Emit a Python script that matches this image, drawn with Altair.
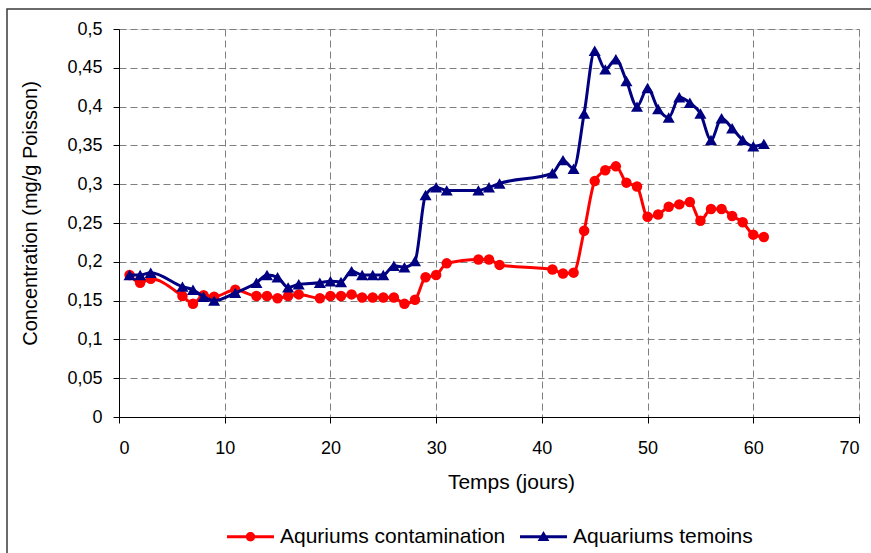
import altair as alt
import pandas as pd

# Sampling days (same for both series)
jours = [1, 2, 3, 6, 7, 8, 9, 11, 13, 14, 15, 16, 17, 19, 20, 21, 22, 23, 24, 25,
         26, 27, 28, 29, 30, 31, 34, 35, 36, 41, 42, 43, 44, 45, 46, 47, 48, 49, 50,
         51, 52, 53, 54, 55, 56, 57, 58, 59, 60, 61]

# Concentration (mg/g fish) in the contaminated aquaria
contamination = [0.183, 0.173, 0.178, 0.156, 0.146, 0.157, 0.155, 0.164, 0.156, 0.156,
                 0.153, 0.156, 0.158, 0.153, 0.156, 0.156, 0.158, 0.154, 0.154, 0.154,
                 0.154, 0.146, 0.151, 0.180, 0.183, 0.198, 0.203, 0.203, 0.196, 0.190,
                 0.185, 0.186, 0.240, 0.304, 0.318, 0.323, 0.302, 0.297, 0.258, 0.261,
                 0.271, 0.274, 0.277, 0.253, 0.268, 0.268, 0.259, 0.251, 0.235, 0.232]

# Concentration (mg/g fish) in the control aquaria
temoins = [0.183, 0.183, 0.186, 0.168, 0.164, 0.155, 0.150, 0.160, 0.173, 0.183,
           0.180, 0.167, 0.171, 0.173, 0.175, 0.174, 0.188, 0.183, 0.183, 0.183,
           0.195, 0.193, 0.201, 0.286, 0.296, 0.292, 0.292, 0.296, 0.301, 0.314,
           0.331, 0.320, 0.391, 0.472, 0.448, 0.461, 0.433, 0.400, 0.424, 0.397,
           0.386, 0.412, 0.405, 0.391, 0.357, 0.385, 0.372, 0.357, 0.349, 0.352]

series_names = ["Aquriums contamination", "Aquariums temoins"]
series_colors = ["#FF0000", "#000080"]

x_ticks = [0, 10, 20, 30, 40, 50, 60, 70]
y_ticks = [0, 0.05, 0.1, 0.15, 0.2, 0.25, 0.3, 0.35, 0.4, 0.45, 0.5]

n = len(jours)
df = pd.DataFrame({
    "jour": jours + jours,
    "conc": contamination + temoins,
    "serie": [series_names[0]] * n + [series_names[1]] * n,
})

FONT = "Liberation Sans"

x_enc = alt.X(
    "jour:Q",
    scale=alt.Scale(domain=[0, 70], nice=False, zero=False),
    axis=alt.Axis(
        values=x_ticks, title="Temps (jours)", labelFontSize=18, labelPadding=16,
        titleFontSize=21, titleFontWeight="normal", titleX=392, titleY=54,
        titleBaseline="top", tickSize=6,
    ),
)
y_enc = alt.Y(
    "conc:Q",
    scale=alt.Scale(domain=[0, 0.5], nice=False),
    axis=alt.Axis(
        values=y_ticks, title="Concentration (mg/g Poisson)",
        labelExpr="replace(format(datum.value, '.2~f'), '.', ',')",
        labelFontSize=18, labelPadding=11, tickSize=6,
        titleFontSize=20, titleFontWeight="normal", titleX=-79, titleY=184,
    ),
)

base = alt.Chart(df)


def serie(name):
    return alt.datum.serie == name


line_cont = base.transform_filter(serie(series_names[0])).mark_line(
    color=series_colors[0], strokeWidth=3, interpolate="monotone"
).encode(x=x_enc, y=y_enc)

pts_cont = base.transform_filter(serie(series_names[0])).mark_point(
    shape="circle", filled=True, size=110, color=series_colors[0], opacity=1
).encode(x=x_enc, y=y_enc)

line_tem = base.transform_filter(serie(series_names[1])).mark_line(
    color=series_colors[1], strokeWidth=3, interpolate="monotone"
).encode(x=x_enc, y=y_enc)

pts_tem = base.transform_filter(serie(series_names[1])).mark_point(
    shape="triangle-up", filled=True, size=145, color=series_colors[1], opacity=1
).encode(x=x_enc, y=y_enc)

# Legend symbols: a short line segment with the series marker in the middle
circle_sym = "M-1,-0.065H1V0.065H-1Z M0.2,0A0.2,0.2 0 1,1 -0.2,0A0.2,0.2 0 1,1 0.2,0Z"
triangle_sym = "M-1,-0.065H1V0.065H-1Z M0,-0.25L0.25,0.18L-0.25,0.18Z"

legend = alt.Legend(
    orient="none", legendX=108, legendY=484, direction="horizontal", title=None,
    symbolSize=2209, symbolOpacity=1, symbolStrokeWidth=0,
    labelFontSize=21, labelFont=FONT, labelColor="black", labelLimit=400,
    labelOffset=6, columnPadding=14, padding=0,
)

legend_layer = base.mark_point(filled=True, opacity=0).encode(
    x=x_enc, y=y_enc,
    color=alt.Color("serie:N", scale=alt.Scale(domain=series_names, range=series_colors),
                    legend=legend),
    shape=alt.Shape("serie:N", scale=alt.Scale(domain=series_names,
                                               range=[circle_sym, triangle_sym]),
                    legend=legend),
)

frame = alt.Chart(alt.Data(values=[{}])).mark_rect(
    fillOpacity=0, stroke="#3a3a3a", strokeWidth=1.5
).encode(x=alt.value(-112), x2=alt.value(800), y=alt.value(-20), y2=alt.value(700))

chart = alt.layer(
    frame, line_cont, pts_cont, line_tem, pts_tem, legend_layer
).properties(
    width=740, height=388,
    autosize="none",
    padding={"left": 119, "top": 29, "right": 12, "bottom": 136},
    background="white",
).configure_view(
    stroke=None
).configure(
    font=FONT,
).configure_axis(
    domainColor="black", domainWidth=1, tickColor="black", tickWidth=1,
    gridColor="#7f7f7f", gridDash=[7, 4], gridWidth=1,
    labelColor="black", titleColor="black", labelFont=FONT, titleFont=FONT,
)

chart.save("out.html", embed_options={"renderer": "svg", "actions": False})
